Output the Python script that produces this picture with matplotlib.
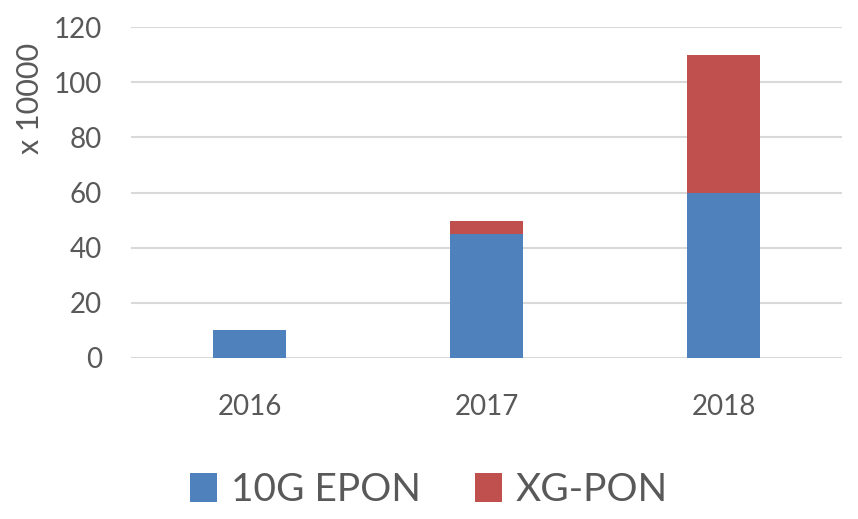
import numpy as np
import matplotlib.pyplot as plt

plt.rcParams['font.family'] = ['Lato', 'DejaVu Sans']

years = ["2016", "2017", "2018"]
epon_10g = [10, 45, 60]
xg_pon = [0, 4.5, 50]

blue = "#4F81BD"
red = "#C0504D"
grey_txt = "#595959"

fig = plt.figure(figsize=(8.58, 5.19), dpi=100)
ax = fig.add_axes([131 / 858, 1 - 358 / 519, 711 / 858, 331 / 519])

x = np.arange(len(years))
w = 0.31
ax.bar(x, epon_10g, w, color=blue, label="10G EPON", zorder=3)
ax.bar(x, xg_pon, w, bottom=epon_10g, color=red, label="XG-PON", zorder=3)

ax.set_xlim(-0.5, 2.5)
ax.set_ylim(0, 120)
ax.set_yticks(range(0, 121, 20))
ax.set_xticks(x)
ax.set_xticklabels(years)
ax.grid(axis="y", color="#d9d9d9", linewidth=1.5, zorder=0)
for s in ax.spines.values():
    s.set_visible(False)
ax.tick_params(axis="both", length=0, labelsize=20, colors=grey_txt)
ax.tick_params(axis="y", pad=21)
ax.tick_params(axis="x", pad=26)

fig.text(30 / 858, 1 - 98 / 519, "x 10000", rotation=90, ha="center", va="center",
         fontsize=22, color=grey_txt)

leg = fig.legend(loc="center", bbox_to_anchor=(0.5, 1 - 490 / 519), ncol=2, frameon=False,
                 fontsize=28, handlelength=0.7, handleheight=0.8, handletextpad=0.35,
                 columnspacing=1.4, labelcolor=grey_txt)

fig.savefig("out.png", dpi=100)
